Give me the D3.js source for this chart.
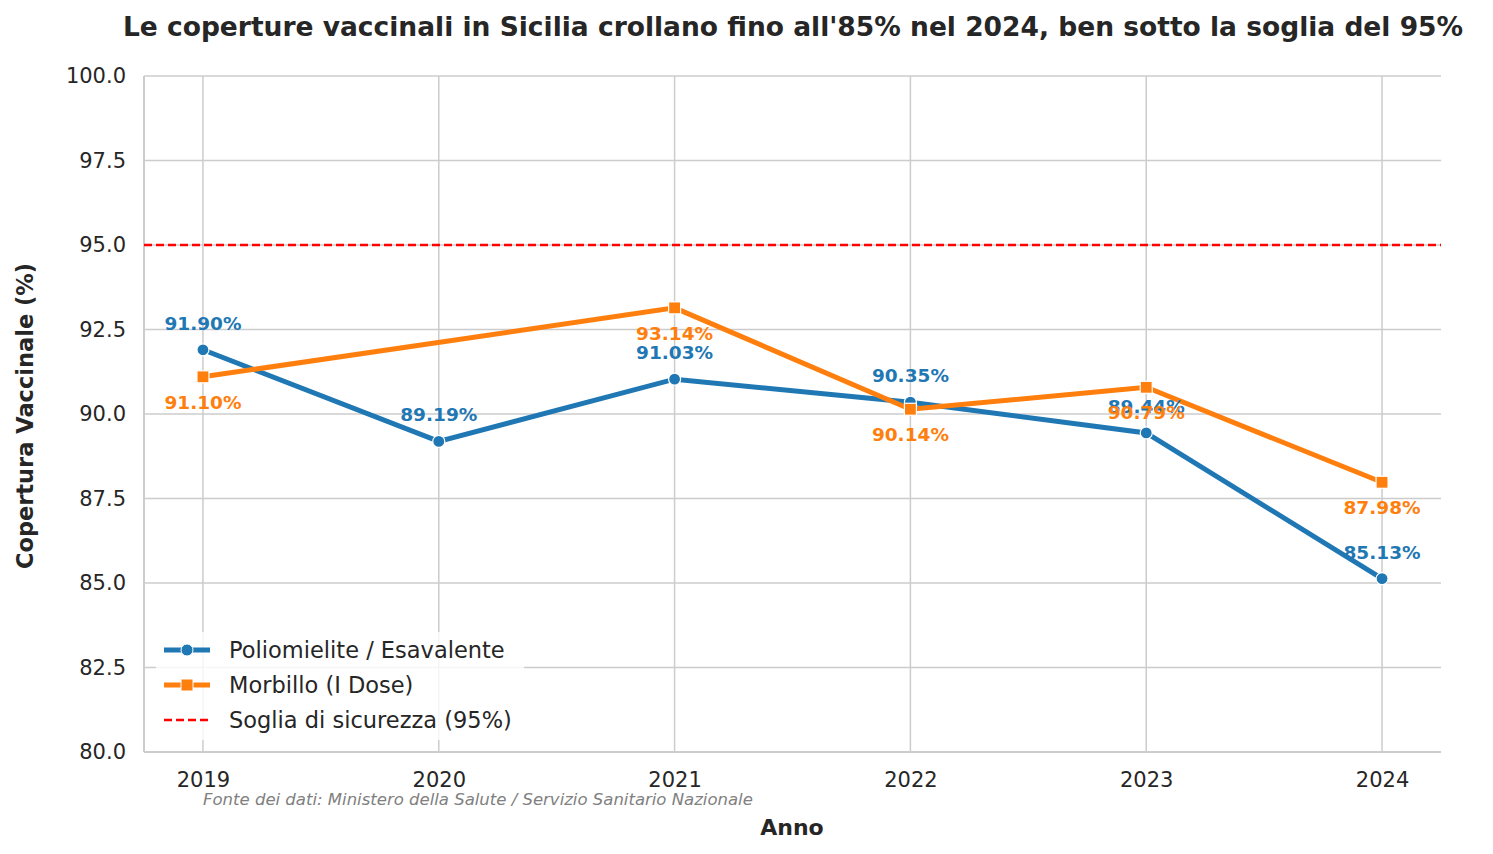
<!DOCTYPE html>
<meta charset="utf-8" />
<script src="https://d3js.org/d3.v7.min.js"></script>
<style>
  body { margin: 0; font-family: "DejaVu Sans", sans-serif; background: #fff; }
</style>
<div id="chart"></div>
<script>
  // Data
  const years = [2019, 2020, 2021, 2022, 2023, 2024];
  const polio = [91.90, 89.19, 91.03, 90.35, 89.44, 85.13];
  const morbillo = [91.10, null, 93.14, 90.14, 90.79, 87.98];
  const yTicks = [80, 82.5, 85, 87.5, 90, 92.5, 95, 97.5, 100];
  const threshold = 95;

  const margin = { top: 76, right: 52, bottom: 102, left: 144 },
    width = 1493 - margin.left - margin.right,
    height = 854 - margin.top - margin.bottom;

  const svgRoot = d3.select("#chart").append("svg")
    .attr("width", 1493).attr("height", 854);
  const svg = svgRoot.append("g")
    .attr("transform", `translate(${margin.left}, ${margin.top})`);

  const x = d3.scaleLinear().domain([2018.75, 2024.25]).range([0, width]);
  const y = d3.scaleLinear().domain([80, 100]).range([height, 0]);

  // Grid
  svg.append("g").selectAll("line").data(yTicks).join("line")
    .attr("x1", 0).attr("x2", width)
    .attr("y1", d => y(d)).attr("y2", d => y(d))
    .attr("stroke", "#cccccc").attr("stroke-width", 1.5);
  svg.append("g").selectAll("line").data(years).join("line")
    .attr("x1", d => x(d)).attr("x2", d => x(d))
    .attr("y1", 0).attr("y2", height)
    .attr("stroke", "#cccccc").attr("stroke-width", 1.5);

  // Spines
  svg.append("line").attr("x1", 0).attr("x2", 0).attr("y1", 0).attr("y2", height)
    .attr("stroke", "#cccccc").attr("stroke-width", 2);
  svg.append("line").attr("x1", 0).attr("x2", width).attr("y1", height).attr("y2", height)
    .attr("stroke", "#cccccc").attr("stroke-width", 2);

  // Axes
  const yAxis = svg.append("g")
    .call(d3.axisLeft(y).tickValues(yTicks).tickFormat(d3.format(".1f")).tickSize(0).tickPadding(18));
  const xAxis = svg.append("g").attr("transform", `translate(0, ${height})`)
    .call(d3.axisBottom(x).tickValues(years).tickFormat(d3.format("d")).tickSize(0).tickPadding(20));
  [yAxis, xAxis].forEach(a => {
    a.select(".domain").remove();
    a.selectAll("text").style("font-size", "21px").style("font-family", "DejaVu Sans").attr("fill", "#262626");
  });

  // Threshold
  svg.append("line").attr("x1", 0).attr("x2", width)
    .attr("y1", y(threshold)).attr("y2", y(threshold))
    .attr("stroke", "red").attr("stroke-width", 2.5).attr("stroke-dasharray", "8,4");

  const line = d3.line().defined(d => d[1] != null).x(d => x(d[0])).y(d => y(d[1]));
  const polioData = years.map((yr, i) => [yr, polio[i]]);
  const morbData = years.map((yr, i) => [yr, morbillo[i]]).filter(d => d[1] != null);

  svg.append("path").datum(polioData).attr("d", line)
    .attr("fill", "none").attr("stroke", "#1f77b4").attr("stroke-width", 5);
  svg.append("path").datum(morbData).attr("d", line)
    .attr("fill", "none").attr("stroke", "#ff7f0e").attr("stroke-width", 5);

  svg.append("g").selectAll("circle").data(polioData).join("circle")
    .attr("cx", d => x(d[0])).attr("cy", d => y(d[1])).attr("r", 6)
    .attr("fill", "#1f77b4").attr("stroke", "white").attr("stroke-width", 1.2);
  svg.append("g").selectAll("rect").data(morbData).join("rect")
    .attr("x", d => x(d[0]) - 6).attr("y", d => y(d[1]) - 6)
    .attr("width", 12).attr("height", 12)
    .attr("fill", "#ff7f0e").attr("stroke", "white").attr("stroke-width", 1.2);

  // Value labels
  svg.append("g").selectAll("text").data(polioData).join("text")
    .attr("x", d => x(d[0])).attr("y", d => y(d[1]) - 20)
    .attr("text-anchor", "middle").attr("fill", "#1f77b4")
    .style("font-size", "18.5px").style("font-weight", "bold")
    .text(d => d[1].toFixed(2) + "%");
  svg.append("g").selectAll("text").data(morbData).join("text")
    .attr("x", d => x(d[0])).attr("y", d => y(d[1]) + 32)
    .attr("text-anchor", "middle").attr("fill", "#ff7f0e")
    .style("font-size", "18.5px").style("font-weight", "bold")
    .text(d => d[1].toFixed(2) + "%");

  // Legend
  const lg = svg.append("g").attr("transform", "translate(12, 556)");
  lg.append("rect").attr("width", 368).attr("height", 108).attr("fill", "white").attr("opacity", 0.8).attr("rx", 3);
  const items = [
    { label: "Poliomielite / Esavalente", color: "#1f77b4", mark: "circle", dash: null, w: 5 },
    { label: "Morbillo (I Dose)", color: "#ff7f0e", mark: "square", dash: null, w: 5 },
    { label: "Soglia di sicurezza (95%)", color: "red", mark: null, dash: "8,4", w: 2.5 }
  ];
  items.forEach((it, i) => {
    const gy = 18 + i * 35;
    lg.append("line").attr("x1", 8).attr("x2", 54).attr("y1", gy).attr("y2", gy)
      .attr("stroke", it.color).attr("stroke-width", it.w).attr("stroke-dasharray", it.dash);
    if (it.mark === "circle") lg.append("circle").attr("cx", 31).attr("cy", gy).attr("r", 6)
      .attr("fill", it.color).attr("stroke", "white");
    if (it.mark === "square") lg.append("rect").attr("x", 25).attr("y", gy - 6).attr("width", 12).attr("height", 12)
      .attr("fill", it.color).attr("stroke", "white");
    lg.append("text").attr("x", 73).attr("y", gy + 8).attr("fill", "#262626")
      .style("font-size", "22.5px").text(it.label);
  });

  // Titles
  svgRoot.append("text").attr("x", 793).attr("y", 36).attr("text-anchor", "middle")
    .style("font-size", "26.5px").style("font-weight", "bold").attr("fill", "#262626")
    .text("Le coperture vaccinali in Sicilia crollano fino all'85% nel 2024, ben sotto la soglia del 95%");
  svgRoot.append("text").attr("x", 792).attr("y", 835).attr("text-anchor", "middle")
    .style("font-size", "22px").style("font-weight", "bold").attr("fill", "#262626").text("Anno");
  svgRoot.append("text").attr("transform", "rotate(-90)").attr("x", -416).attr("y", 33)
    .attr("text-anchor", "middle").style("font-size", "22.5px").style("font-weight", "bold")
    .attr("fill", "#262626").text("Copertura Vaccinale (%)");
  svgRoot.append("text").attr("x", 203).attr("y", 805)
    .style("font-size", "16.5px").style("font-style", "italic").attr("fill", "gray")
    .text("Fonte dei dati: Ministero della Salute / Servizio Sanitario Nazionale");
</script>
